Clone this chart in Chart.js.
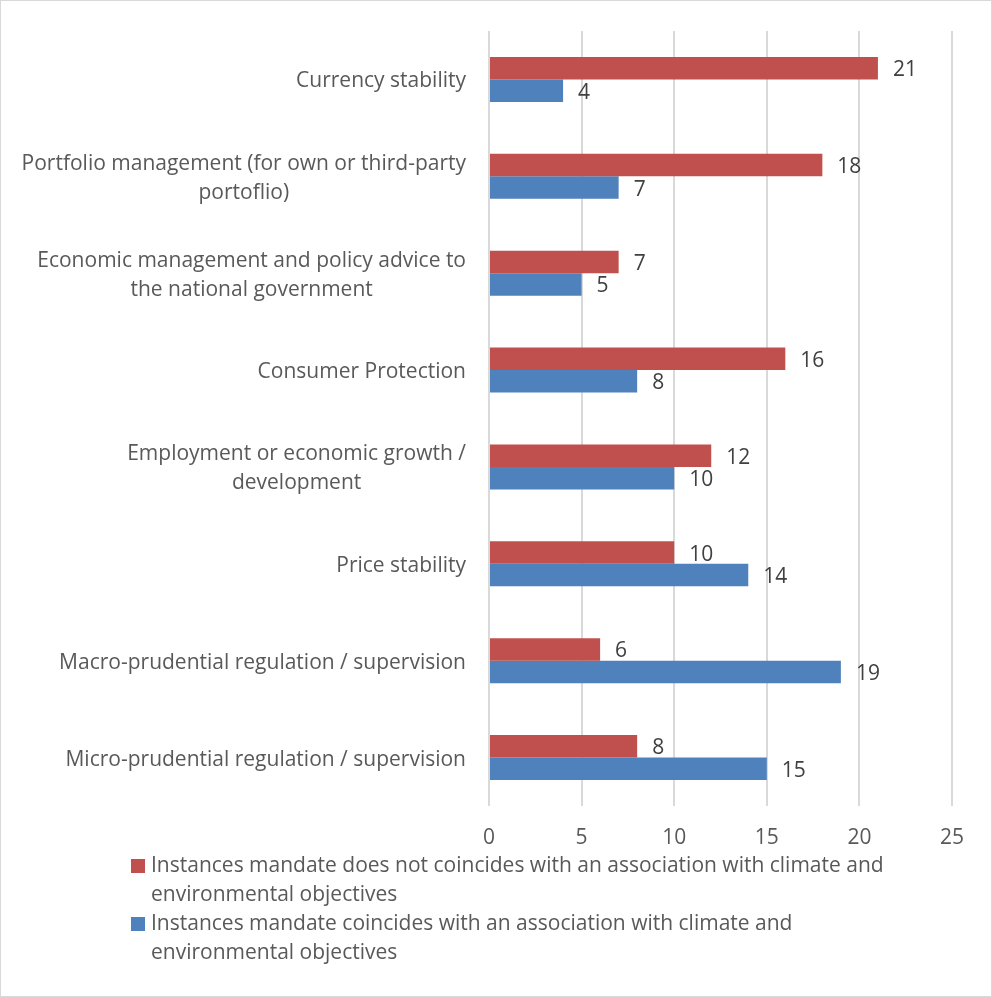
<!DOCTYPE html>
<html>
<head>
<meta charset="utf-8">
<script src="https://cdn.jsdelivr.net/npm/chart.js@4/dist/chart.umd.min.js"></script>
<style>
  html, body { margin: 0; padding: 0; background: #fff; }
  #wrap {
    position: relative;
    width: 990px;
    height: 995px;
    border: 1px solid #d9d9d9;
    font-family: "Open Sans", sans-serif;
  }
  #chart { position: absolute; left: 0; top: 0; }
  #legend {
    position: absolute;
    left: 130px;
    top: 849px;
    font-size: 21px;
    line-height: 29px;
    color: #595959;
  }
  .item { display: flex; align-items: flex-start; }
  .swatch { flex: 0 0 14px; height: 14px; margin: 9px 6px 0 0; }
  .text { width: 748px; }
</style>
</head>
<body>
<div id="wrap">
  <canvas id="chart" width="990" height="995"></canvas>
  <div id="legend"></div>
</div>
<script>
const categories = [
  ['Currency stability'],
  ['Portfolio management (for own or third-party', 'portoflio)'],
  ['Economic management and policy advice to', 'the national government'],
  ['Consumer Protection'],
  ['Employment or economic growth /', 'development'],
  ['Price stability'],
  ['Macro-prudential regulation / supervision'],
  ['Micro-prudential regulation / supervision']
];
const notCoinciding = [21, 18, 7, 16, 12, 10, 6, 8];
const coinciding = [4, 7, 5, 8, 10, 14, 19, 15];
const seriesNames = [
  'Instances mandate does not coincides with an association with climate and environmental objectives',
  'Instances mandate coincides with an association with climate and environmental objectives'
];
const xTicks = [0, 5, 10, 15, 20, 25];

const FONT = '"Open Sans", sans-serif';
const TEXT = '#595959';

// category labels: each block right-aligned to the axis, lines centred within it
const categoryLabels = {
  id: 'categoryLabels',
  afterDraw(chart) {
    const ctx = chart.ctx;
    const yScale = chart.scales.y;
    const right = chart.chartArea.left - 23;
    ctx.save();
    ctx.font = '21px ' + FONT;
    ctx.fillStyle = TEXT;
    ctx.textAlign = 'center';
    ctx.textBaseline = 'middle';
    const lineH = 29;
    chart.data.labels.forEach((lines, i) => {
      const y = yScale.getPixelForTick(i) + 2;
      const w = Math.max(...lines.map(l => ctx.measureText(l).width));
      const cx = right - w / 2;
      const y0 = y - (lines.length - 1) * lineH / 2;
      lines.forEach((l, j) => ctx.fillText(l, cx, y0 + j * lineH));
    });
    ctx.restore();
  }
};

// value next to the end of every bar
const valueLabels = {
  id: 'valueLabels',
  afterDatasetsDraw(chart) {
    const ctx = chart.ctx;
    ctx.save();
    ctx.font = '21px ' + FONT;
    ctx.fillStyle = '#404040';
    ctx.textAlign = 'left';
    ctx.textBaseline = 'middle';
    chart.data.datasets.forEach((ds, di) => {
      chart.getDatasetMeta(di).data.forEach((bar, i) => {
        ctx.fillText(String(ds.data[i]), bar.x + 15, bar.y + 2);
      });
    });
    ctx.restore();
  }
};

const chart = new Chart(document.getElementById('chart'), {
  type: 'bar',
  data: {
    labels: categories,
    datasets: [
      {
        label: seriesNames[0],
        data: notCoinciding,
        backgroundColor: '#C0504D',
        categoryPercentage: 0.465,
        barPercentage: 1.0
      },
      {
        label: seriesNames[1],
        data: coinciding,
        backgroundColor: '#4F81BD',
        categoryPercentage: 0.465,
        barPercentage: 1.0
      }
    ]
  },
  options: {
    indexAxis: 'y',
    responsive: false,
    animation: false,
    layout: { padding: { top: 30, right: 39, bottom: 150, left: 0 } },
    scales: {
      x: {
        min: xTicks[0],
        max: xTicks[xTicks.length - 1],
        afterBuildTicks: s => { s.ticks = xTicks.map(v => ({ value: v })); },
        afterFit: s => { s.height = 40; },
        grid: { color: '#d9d9d9', lineWidth: 2, drawTicks: false },
        border: { display: false },
        ticks: { color: TEXT, font: { family: FONT, size: 21 }, padding: 19 }
      },
      y: {
        afterFit: s => { s.width = 488; },
        grid: { display: false },
        border: { display: false },
        ticks: { display: false }
      }
    },
    plugins: {
      legend: { display: false },
      tooltip: { enabled: false }
    }
  },
  plugins: [categoryLabels, valueLabels]
});

// legend built from the dataset names so the long labels can wrap
const legend = document.getElementById('legend');
chart.data.datasets.forEach(ds => {
  const item = document.createElement('div');
  item.className = 'item';
  const sw = document.createElement('span');
  sw.className = 'swatch';
  sw.style.background = ds.backgroundColor;
  const txt = document.createElement('span');
  txt.className = 'text';
  txt.textContent = ds.label;
  item.appendChild(sw);
  item.appendChild(txt);
  legend.appendChild(item);
});
</script>
</body>
</html>
